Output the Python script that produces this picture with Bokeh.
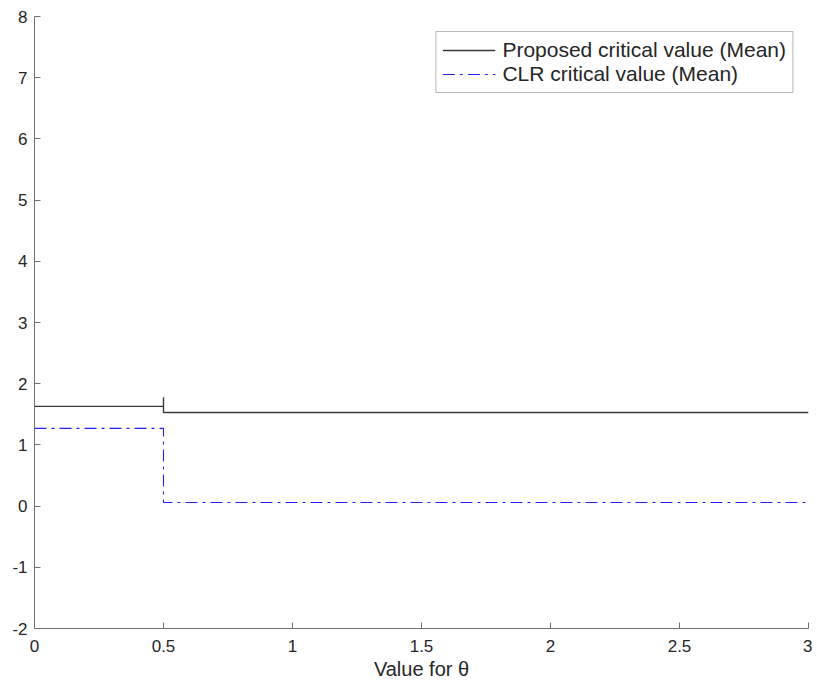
from bokeh.plotting import figure
from bokeh.models import FixedTicker, Legend, LegendItem, Range1d
from bokeh.embed import file_html
from bokeh.resources import INLINE

# Data
theta_proposed = [0.0, 0.5, 0.5, 0.5, 3.0]
proposed_mean = [1.63, 1.63, 1.78, 1.53, 1.53]
theta_clr = [0.0, 0.5, 0.5, 3.0]
clr_mean = [1.27, 1.27, 0.06, 0.06]

x_ticks = [0, 0.5, 1, 1.5, 2, 2.5, 3]
x_tick_labels = ["0", "0.5", "1", "1.5", "2", "2.5", "3"]
y_ticks = [-2, -1, 0, 1, 2, 3, 4, 5, 6, 7, 8]
y_tick_labels = ["-2", "-1", "0", "1", "2", "3", "4", "5", "6", "7", "8"]

FONT = "Liberation Sans"
AX = "#262626"

p = figure(width=812, height=682, output_backend="svg", toolbar_location=None,
           x_range=Range1d(0, 3), y_range=Range1d(-2, 8),
           min_border_left=34, min_border_right=4, min_border_top=16, min_border_bottom=54)
p.background_fill_color = "white"
p.outline_line_color = None
p.grid.visible = False

r1 = p.line(theta_proposed, proposed_mean, line_color="#3a3a3a", line_width=1.4)
r2 = p.line(theta_clr, clr_mean, line_color="#1f1fff", line_width=1.1, line_dash="12 5 3 5")

for ax in (p.xaxis[0], p.yaxis[0]):
    ax.axis_line_color = "#707070"
    ax.major_tick_line_color = "#707070"
    ax.major_tick_in = 6
    ax.major_tick_out = 0
    ax.minor_tick_line_color = None
    ax.major_label_text_font = FONT
    ax.major_label_text_font_size = "17px"
    ax.major_label_text_color = AX

p.xaxis.ticker = FixedTicker(ticks=x_ticks)
p.xaxis.major_label_overrides = {t: l for t, l in zip(x_ticks, x_tick_labels)}
p.xaxis.major_label_standoff = 11
p.yaxis.ticker = FixedTicker(ticks=y_ticks)
p.yaxis.major_label_standoff = 7
p.yaxis.major_label_overrides = {t: l for t, l in zip(y_ticks, y_tick_labels)}

p.xaxis.axis_label = "Value for θ"
p.xaxis.axis_label_text_font = FONT
p.xaxis.axis_label_text_font_size = "20px"
p.xaxis.axis_label_text_font_style = "normal"
p.xaxis.axis_label_text_color = AX
p.xaxis.axis_label_standoff = 3

legend = Legend(items=[
    LegendItem(label="Proposed critical value (Mean)", renderers=[r1]),
    LegendItem(label="CLR critical value (Mean)", renderers=[r2]),
], location="top_right")
legend.margin = 15
legend.padding = 6
legend.spacing = 0
legend.glyph_width = 53
legend.glyph_height = 24
legend.label_height = 24
legend.label_standoff = 7
legend.label_text_font = FONT
legend.label_text_font_size = "21px"
legend.label_text_color = AX
legend.border_line_color = "#707070"
legend.border_line_width = 1
legend.background_fill_color = "white"
p.add_layout(legend, "center")

open("out.html", "w").write(file_html(p, INLINE))
